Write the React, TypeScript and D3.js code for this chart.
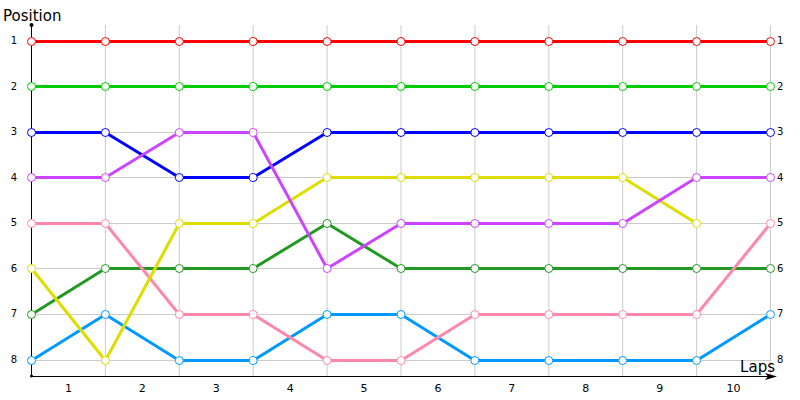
import { useEffect, useRef } from 'react'
import * as d3 from 'd3'

const laps = ['1', '2', '3', '4', '5', '6', '7', '8', '9', '10']
const positions = [1, 2, 3, 4, 5, 6, 7, 8]

const red = [1, 1, 1, 1, 1, 1, 1, 1, 1, 1, 1]
const green = [2, 2, 2, 2, 2, 2, 2, 2, 2, 2, 2]
const blue = [3, 3, 4, 4, 3, 3, 3, 3, 3, 3, 3]
const darkGreen = [7, 6, 6, 6, 5, 6, 6, 6, 6, 6, 6]
const lightBlue = [8, 7, 8, 8, 7, 7, 8, 8, 8, 8, 7]
const pink = [5, 5, 7, 7, 8, 8, 7, 7, 7, 7, 5]
const yellow = [6, 8, 5, 5, 4, 4, 4, 4, 4, 5]
const magenta = [4, 4, 3, 3, 6, 5, 5, 5, 5, 4, 4]

const series = [
  { values: red, color: '#ff0000' },
  { values: green, color: '#00cc00' },
  { values: blue, color: '#0000ff' },
  { values: darkGreen, color: '#229922' },
  { values: lightBlue, color: '#0099ff' },
  { values: pink, color: '#ff88aa' },
  { values: yellow, color: '#dddd00' },
  { values: magenta, color: '#cc44ff' },
]

export default function App() {
  const svgRef = useRef<SVGSVGElement>(null)

  useEffect(() => {
    if (!svgRef.current) return
    const svg = d3.select(svgRef.current)
    svg.selectAll('*').remove()

    const font = 'Tahoma, "DejaVu Sans", sans-serif'
    const x = d3.scaleLinear().domain([0, 10]).range([31, 770])
    const y = d3.scaleLinear().domain([1, 8]).range([40.5, 359.5])
    const top = 25
    const bottom = 376

    // grid
    const grid = svg.append('g').attr('stroke', '#cccccc').attr('stroke-width', 1)
    d3.range(0, 11).forEach(i => {
      grid.append('line')
        .attr('x1', x(i) + 0.5).attr('x2', x(i) + 0.5)
        .attr('y1', top).attr('y2', bottom)
    })
    positions.forEach(p => {
      grid.append('line')
        .attr('x1', x(0)).attr('x2', x(10))
        .attr('y1', Math.round(y(p)) + 0.5).attr('y2', Math.round(y(p)) + 0.5)
    })

    // axes
    svg.append('line')
      .attr('x1', x(0) + 0.5).attr('x2', x(0) + 0.5)
      .attr('y1', top).attr('y2', bottom)
      .attr('stroke', '#000')
    svg.append('circle').attr('cx', x(0) + 0.5).attr('cy', top).attr('r', 2).attr('fill', '#000')
    svg.append('circle').attr('cx', x(0) + 0.5).attr('cy', bottom).attr('r', 1.5).attr('fill', '#000')
    svg.append('line')
      .attr('x1', x(0)).attr('x2', 772)
      .attr('y1', bottom + 0.5).attr('y2', bottom + 0.5)
      .attr('stroke', '#000')
    svg.append('path')
      .attr('d', `M${777},${bottom + 0.5} L${765},${bottom - 3} L${768},${bottom + 0.5} L${765},${bottom + 4} Z`)
      .attr('fill', '#000')

    // tick labels
    const lbl = svg.append('g').attr('font-family', font).attr('font-size', 10).attr('fill', '#000')
    positions.forEach(p => {
      lbl.append('text').attr('x', 14).attr('y', y(p) + 3.5).attr('text-anchor', 'middle').text(p)
      lbl.append('text').attr('x', 777).attr('y', y(p) + 3.5).text(p)
    })
    laps.forEach((l, i) => {
      lbl.append('text')
        .attr('x', (x(i) + x(i + 1)) / 2 + 0.5).attr('y', 392)
        .attr('text-anchor', 'middle').attr('font-size', 11).text(l)
    })

    svg.append('text').attr('x', 3).attr('y', 21)
      .attr('font-family', font).attr('font-size', 15).text('Position')
    svg.append('text').attr('x', 775).attr('y', 372).attr('text-anchor', 'end')
      .attr('font-family', font).attr('font-size', 15).text('Laps')

    // lines
    const line = d3.line<number>().x((_, i) => x(i) + 0.5).y(d => Math.round(y(d)) + 0.5)
    series.forEach(s => {
      svg.append('path')
        .attr('d', line(s.values))
        .attr('fill', 'none')
        .attr('stroke', s.color)
        .attr('stroke-width', 3)
        .attr('stroke-linejoin', 'round')
    })
    series.forEach(s => {
      svg.append('g').selectAll('circle')
        .data(s.values)
        .join('circle')
        .attr('cx', (_, i) => x(i) + 0.5)
        .attr('cy', d => Math.round(y(d)) + 0.5)
        .attr('r', 4)
        .attr('fill', '#fff')
        .attr('stroke', s.color)
        .attr('stroke-width', 1)
    })
  }, [])

  return (
    <svg
      ref={svgRef}
      width={800}
      height={400}
      style={{ position: 'absolute', left: 0, top: 0, background: '#fff' }}
    />
  )
}
